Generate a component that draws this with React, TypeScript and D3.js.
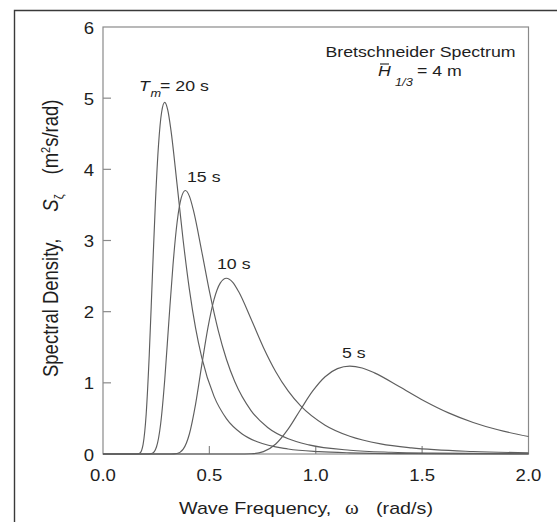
import { useEffect, useRef } from 'react';
import * as d3 from 'd3';

// frequencies (rad/s) and spectral density (m^2 s/rad)
const freq20 = [0, 0.1595, 0.174, 0.1885, 0.203, 0.2175, 0.232, 0.2465, 0.261, 0.2755, 0.29, 0.3045, 0.319, 0.348, 0.377, 0.406, 0.435, 0.464, 0.522, 0.58, 0.6525, 0.725, 0.87, 1.015, 1.16, 1.45, 1.74, 2.0];
const dens20 = [0, 0.0004, 0.0144, 0.135, 0.562, 1.397, 2.49, 3.545, 4.345, 4.802, 4.94, 4.831, 4.559, 3.793, 2.997, 2.314, 1.772, 1.359, 0.81, 0.498, 0.285, 0.171, 0.07, 0.0326, 0.0168, 0.0055, 0.0022, 0.001];

const freq15 = [0, 0.213, 0.232, 0.2516, 0.2709, 0.2903, 0.3096, 0.329, 0.3483, 0.3677, 0.387, 0.4064, 0.4257, 0.4644, 0.5031, 0.5418, 0.5805, 0.6192, 0.6966, 0.774, 0.8708, 0.9675, 1.161, 1.3545, 1.548, 1.935, 2.0];
const dens15 = [0, 0.0003, 0.0108, 0.1013, 0.421, 1.047, 1.866, 2.656, 3.256, 3.598, 3.702, 3.62, 3.416, 2.842, 2.245, 1.734, 1.328, 1.018, 0.607, 0.373, 0.2134, 0.128, 0.0525, 0.0244, 0.0126, 0.0041, 0.0036];

const freq10 = [0, 0.319, 0.348, 0.377, 0.406, 0.435, 0.464, 0.493, 0.522, 0.551, 0.58, 0.609, 0.638, 0.696, 0.754, 0.812, 0.87, 0.928, 1.044, 1.16, 1.305, 1.45, 1.74, 2.0];
const dens10 = [0, 0.0002, 0.0072, 0.0676, 0.281, 0.698, 1.245, 1.772, 2.172, 2.401, 2.47, 2.416, 2.279, 1.897, 1.498, 1.157, 0.886, 0.679, 0.405, 0.249, 0.1424, 0.0855, 0.035, 0.0175];

const freq5 = [0, 0.638, 0.696, 0.754, 0.812, 0.87, 0.928, 0.986, 1.044, 1.102, 1.16, 1.218, 1.276, 1.392, 1.508, 1.624, 1.74, 1.856, 2.0];
const dens5 = [0, 0.0001, 0.0036, 0.0338, 0.1405, 0.349, 0.622, 0.886, 1.086, 1.2, 1.235, 1.208, 1.14, 0.948, 0.749, 0.578, 0.443, 0.34, 0.246];

const xTicks = [0, 0.5, 1.0, 1.5, 2.0];
const xTickLabels = ['0.0', '0.5', '1.0', '1.5', '2.0'];
const yTicks = [0, 1, 2, 3, 4, 5, 6];

const FONT = '"Liberation Sans", Arial, Helvetica, sans-serif';
const SERIF = '"Liberation Serif", "DejaVu Serif", serif';
// the source figure is stretched sideways, text included
const SX = 1.16;

const App = () => {
  const svgRef = useRef<SVGSVGElement>(null);

  useEffect(() => {
    const svg = d3.select(svgRef.current);
    svg.selectAll('*').remove();

    const x = d3.scaleLinear().domain([0, 2]).range([103, 528.5]);
    const y = d3.scaleLinear().domain([0, 6]).range([454, 27]);

    const label = (lx: number, ly: number, size: number, anchor = 'start', extra = '') =>
      svg.append('text')
        .attr('transform', `translate(${lx},${ly}) scale(${SX},1)${extra}`)
        .attr('text-anchor', anchor)
        .style('font-family', FONT)
        .style('font-size', `${size}px`)
        .attr('fill', '#1e1e1e');

    // outer frame (left and top only)
    svg.append('path')
      .attr('d', 'M14.5,522 L14.5,10.5 L557,10.5')
      .attr('fill', 'none')
      .attr('stroke', '#3a3a3a')
      .attr('stroke-width', 1.4);

    // plot box
    svg.append('rect')
      .attr('x', x(0)).attr('y', y(6))
      .attr('width', x(2) - x(0)).attr('height', y(0) - y(6))
      .attr('fill', 'none')
      .attr('stroke', '#8a8a8a')
      .attr('stroke-width', 1.2);

    // inward ticks
    yTicks.slice(1, -1).forEach(d => {
      svg.append('line')
        .attr('x1', x(0)).attr('x2', x(0) + 8)
        .attr('y1', y(d)).attr('y2', y(d))
        .attr('stroke', '#8a8a8a').attr('stroke-width', 1.2);
    });
    xTicks.slice(1, -1).forEach(d => {
      svg.append('line')
        .attr('x1', x(d)).attr('x2', x(d))
        .attr('y1', y(0)).attr('y2', y(0) - 8)
        .attr('stroke', '#8a8a8a').attr('stroke-width', 1.2);
    });

    // tick labels
    yTicks.forEach(d => label(x(0) - 9, y(d) + 6.5, 16, 'end').text(String(d)));
    xTicks.forEach((d, i) => label(x(d), 481, 16, 'middle').text(xTickLabels[i]));

    // curves
    const line = d3.line<[number, number]>()
      .x(d => x(d[0]))
      .y(d => y(d[1]))
      .curve(d3.curveMonotoneX);

    const series = [
      [freq20, dens20],
      [freq15, dens15],
      [freq10, dens10],
      [freq5, dens5],
    ];
    series.forEach(([fs, ds]) => {
      svg.append('path')
        .datum(fs.map((f, i) => [f, ds[i]] as [number, number]))
        .attr('d', line)
        .attr('fill', 'none')
        .attr('stroke', '#5e5e5e')
        .attr('stroke-width', 1.15);
    });

    // curve labels
    label(139, 91, 15.3).style('font-style', 'italic').text('T');
    label(150.5, 97, 11).style('font-style', 'italic').text('m');
    label(160, 91, 15.3).text('= 20 s');
    label(187, 182, 15.3).text('15 s');
    label(217, 269, 15.3).text('10 s');
    label(342, 358, 15.3).text('5 s');

    // title block
    label(420.5, 57, 15.3, 'middle').text('Bretschneider Spectrum');
    label(378, 76, 15.3).style('font-style', 'italic').text('H');
    label(395, 86, 11).style('font-style', 'italic').text('1/3');
    label(417, 76, 15.3).text('= 4 m');
    svg.append('line')
      .attr('x1', 380).attr('x2', 389).attr('y1', 64).attr('y2', 64)
      .attr('stroke', '#1e1e1e').attr('stroke-width', 1.1);

    // x axis title
    label(179, 514, 17).text('Wave Frequency,');
    label(345, 514, 18).style('font-family', SERIF).text('ω');
    label(376, 514, 17).text('(rad/s)');

    // y axis title, reading bottom to top
    const yt = label(58, 377, 18.5, 'start', ' rotate(-90)');
    yt.append('tspan').text('Spectral Density,');
    yt.append('tspan').attr('dx', 27).style('font-style', 'italic').text('S');
    yt.append('tspan').attr('dy', 4).style('font-size', '11px').text('ζ');
    yt.append('tspan').attr('dx', 20).attr('dy', -4).text('(m');
    yt.append('tspan').attr('dy', -7).style('font-size', '11px').text('2');
    yt.append('tspan').attr('dy', 7).text('s/rad)');
  }, []);

  return (
    <svg
      ref={svgRef}
      width={557}
      height={522}
      style={{ position: 'absolute', left: 0, top: 0, background: '#fff' }}
    />
  );
};

export default App;
